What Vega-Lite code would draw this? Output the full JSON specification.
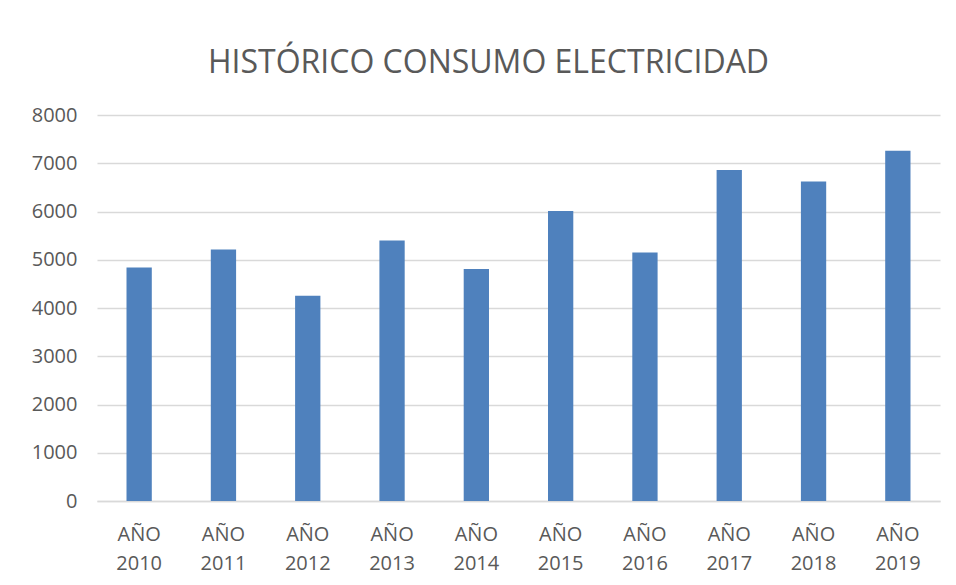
{
  "$schema": "https://vega.github.io/schema/vega-lite/v6.json",
  "width": 843,
  "height": 386,
  "autosize": {"type": "none"},
  "padding": {"left": 97, "top": 115, "right": 16, "bottom": 84},
  "background": "white",
  "title": {
    "text": "HISTÓRICO CONSUMO ELECTRICIDAD",
    "font": "Open Sans",
    "fontSize": 32,
    "fontWeight": "normal",
    "color": "#595959",
    "anchor": "middle",
    "frame": "group",
    "dx": -30,
    "offset": 25
  },
  "data": {
    "values": [
      {"anio": "AÑO 2010", "consumo": 4840},
      {"anio": "AÑO 2011", "consumo": 5214},
      {"anio": "AÑO 2012", "consumo": 4253},
      {"anio": "AÑO 2013", "consumo": 5400},
      {"anio": "AÑO 2014", "consumo": 4807},
      {"anio": "AÑO 2015", "consumo": 6010},
      {"anio": "AÑO 2016", "consumo": 5151},
      {"anio": "AÑO 2017", "consumo": 6861},
      {"anio": "AÑO 2018", "consumo": 6624},
      {"anio": "AÑO 2019", "consumo": 7261}
    ]
  },
  "mark": {"type": "bar", "color": "#4F81BD"},
  "encoding": {
    "x": {
      "field": "anio",
      "type": "nominal",
      "sort": null,
      "scale": {"paddingInner": 0.7, "paddingOuter": 0.35},
      "axis": {
        "title": null,
        "labelAngle": 0,
        "labelExpr": "split(datum.label, ' ')",
        "labelFont": "Open Sans",
        "labelFontSize": 20,
        "labelColor": "#595959",
        "labelPadding": 23,
        "labelLineHeight": 29,
        "ticks": false,
        "domainColor": "#d9d9d9",
        "domainWidth": 1.5
      }
    },
    "y": {
      "field": "consumo",
      "type": "quantitative",
      "scale": {"domain": [0, 8000]},
      "axis": {
        "title": null,
        "format": "d",
        "values": [0, 1000, 2000, 3000, 4000, 5000, 6000, 7000, 8000],
        "labelFont": "Open Sans",
        "labelFontSize": 20,
        "labelColor": "#595959",
        "labelPadding": 20,
        "ticks": false,
        "domain": false,
        "gridColor": "#d9d9d9",
        "gridWidth": 1.5
      }
    }
  },
  "config": {"view": {"stroke": null}}
}
